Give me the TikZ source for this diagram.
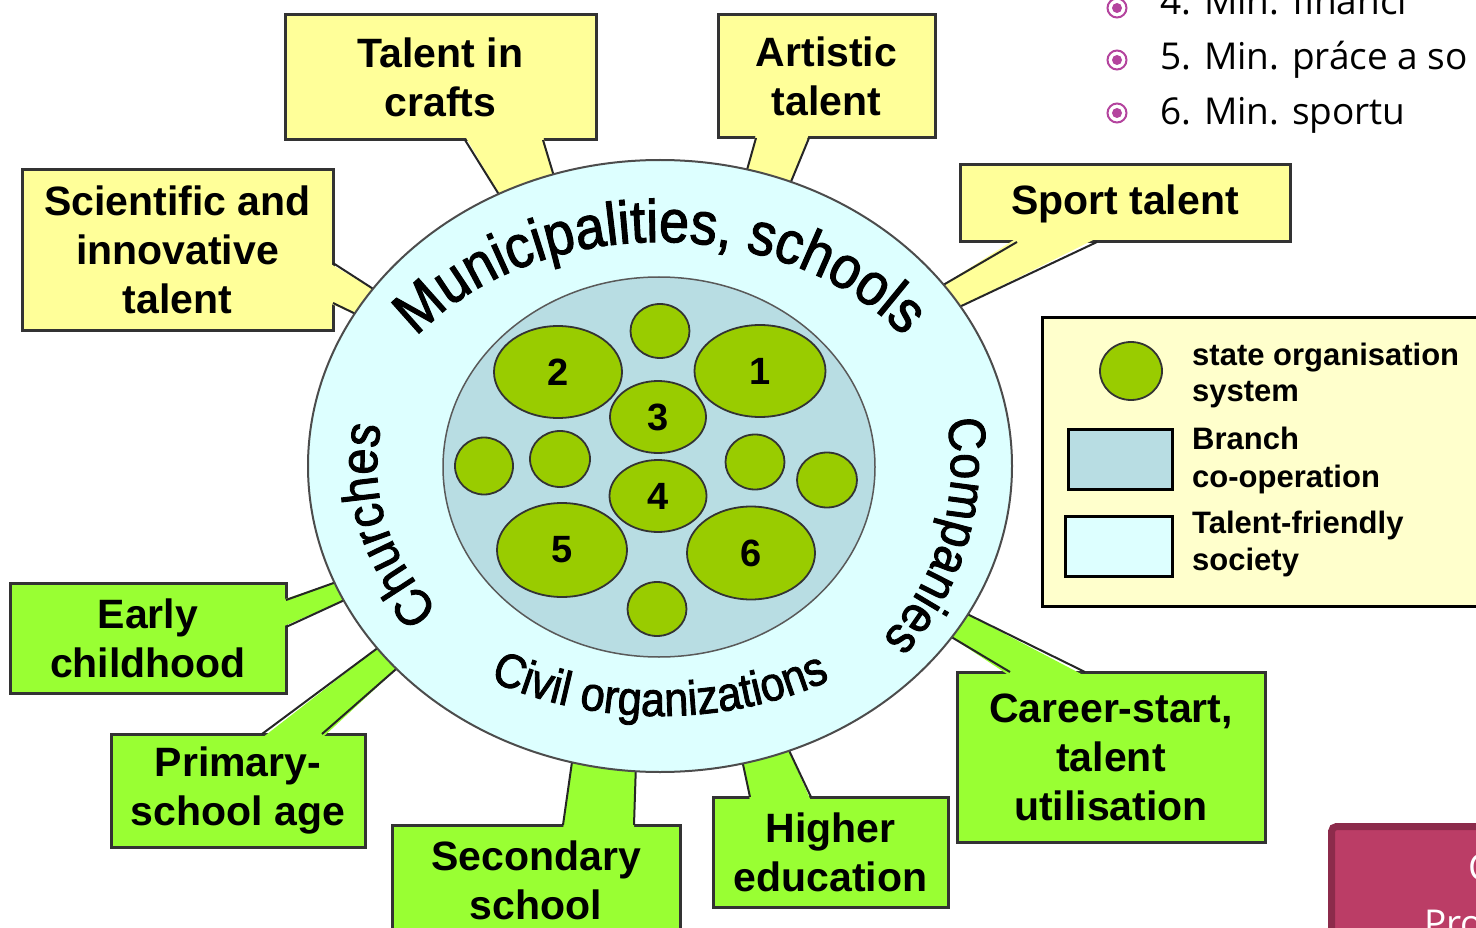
\documentclass[tikz,border=0pt]{standalone}
\usepackage{fontspec}
\setmainfont{Liberation Sans}
\newfontfamily\bulfont{Open Sans}
\newfontfamily\ringfont[FakeBold=1.8,FakeStretch=0.9]{Liberation Sans}
\usetikzlibrary{decorations.text,shapes.geometric}
\definecolor{cyel}{HTML}{FFFF99}
\definecolor{cgrn}{HTML}{99FF33}
\definecolor{cring}{HTML}{DDFFFF}
\definecolor{cinner}{HTML}{B8DDE3}
\definecolor{cball}{HTML}{99CC00}
\definecolor{cleg}{HTML}{FFFFCC}
\definecolor{cmag}{HTML}{B4449E}
\definecolor{cmar}{HTML}{BB3D66}
\definecolor{cmarb}{HTML}{8C2B4B}
\newcommand\calfont{\fontsize{41}{49}\selectfont\bfseries}
\newcommand\ringA{\ringfont\fontsize{60}{60}\selectfont}
\newcommand\ringB{\ringfont\fontsize{52}{52}\selectfont}
\newcommand\ringC{\ringfont\fontsize{48}{48}\selectfont}
\begin{document}
\begin{tikzpicture}[x=1pt,y=-1pt,
  ybox/.style={draw=black!80, line width=3, fill=cyel, align=center, inner sep=0, font=\calfont},
  gbox/.style={ybox, fill=cgrn},
  tailside/.style={draw=black!85, line width=2},
  ball/.style={ellipse, draw=black!80, line width=1.8, fill=cball, inner sep=0, font=\fontsize{38}{38}\selectfont\bfseries},
  legtext/.style={anchor=base west, inner sep=0, font=\fontsize{31}{31}\selectfont\bfseries},
  bultext/.style={anchor=base west, inner sep=0, font=\bulfont\fontsize{37}{37}\selectfont},
  legrect/.style={draw=black, line width=3, inner sep=0}]
\useasboundingbox (0,0) rectangle (1476,928);
\clip (0,0) rectangle (1476,928);

% ---------- callout boxes ----------
\node[ybox, minimum width=311, minimum height=125] (crafts) at (440.5,77.5) {Talent in\\crafts};
\node[ybox, minimum width=217, minimum height=123] (artistic) at (826.5,76.5) {Artistic\\talent};
\node[ybox, minimum width=330, minimum height=77] (sport) at (1125,203.5) {Sport talent};
\node[ybox, minimum width=311, minimum height=160] (scient) at (177.5,250) {Scientific and\\innovative\\talent};
\node[gbox, minimum width=276, minimum height=110] (early) at (148,638) {Early\\childhood};
\node[gbox, minimum width=254, minimum height=113] (primary) at (238,790.5) {Primary-\\school age};
\node[gbox, minimum width=288, minimum height=110] (second) at (536,880) {Secondary\\school};
\node[gbox, minimum width=235, minimum height=110] (higher) at (830.5,852) {Higher\\education};
\node[gbox, minimum width=308, minimum height=170] (career) at (1111,757) {Career-start,\\talent\\utilisation};

% ---------- tails ----------
\fill[cyel] (465,136) -- (503,201) -- (556,183) -- (543,136) -- cycle;
\draw[tailside] (465,140) -- (503,201) (543,140) -- (556,183);
\fill[cyel] (756,134) -- (745,177) -- (788,189) -- (809,134) -- cycle;
\draw[tailside] (756,138) -- (745,177) (809,138) -- (788,189);
\fill[cyel] (1017,238) -- (938,288) -- (955,309) -- (1097,238) -- cycle;
\draw[tailside] (1017,242) -- (938,288) (1097,242) -- (955,309);
\fill[cyel] (329,263) -- (378,292) -- (362,317) -- (329,303) -- cycle;
\draw[tailside] (333,263) -- (378,292) (333,303) -- (362,317);
\fill[cgrn] (282,600) -- (342,580) -- (349,598) -- (282,627) -- cycle;
\draw[tailside] (286,600) -- (342,580) (286,627) -- (349,598);
\fill[cgrn] (262,738) -- (383,644) -- (403,663) -- (322,738) -- cycle;
\draw[tailside] (262,734) -- (383,644) (322,734) -- (403,663);
\fill[cgrn] (563,829) -- (573,755) -- (636,763) -- (634,829) -- cycle;
\draw[tailside] (563,825) -- (573,755) (634,825) -- (636,763);
\fill[cgrn] (750,801) -- (741,755) -- (786,744) -- (811,801) -- cycle;
\draw[tailside] (750,797) -- (741,755) (811,797) -- (786,744);
\fill[cgrn] (1010,676) -- (948,635) -- (961,611) -- (1085,676) -- cycle;
\draw[tailside] (1010,672) -- (948,635) (1085,672) -- (961,611);

% ---------- society ring ----------
\draw[draw=black!70, line width=2, fill=cring] (660,466) ellipse [x radius=352, y radius=306];
\draw[draw=black!65, line width=1.5, fill=cinner] (659,467) ellipse [x radius=216, y radius=190];

% ring texts
\path[decorate, decoration={text along path, text={|\ringA|Municipalities, schools}, text align=center}]
  (660,466) ++(212:298 and 224) arc[start angle=212, end angle=328, x radius=298, y radius=224];
\path[decorate, decoration={text along path, text={|\ringB|Churches}, text align=center}]
  (660,466) ++(136:283 and 229) arc[start angle=136, end angle=196, x radius=283, y radius=229];
\path[decorate, decoration={text along path, text={|\ringB|Companies}, text align=center}]
  (660,466) ++(-15:291 and 268) arc[start angle=-15, end angle=45, x radius=291, y radius=268];
\path[decorate, decoration={text along path, text={|\ringC|Civil organizations}, text align=center}]
  (660,466) ++(140:330 and 250) arc[start angle=140, end angle=40, x radius=330, y radius=250];

% ---------- state organisations ----------
\node[ball, minimum width=128, minimum height=92] (o2) at (558,372) {2};
\node[ball, minimum width=131, minimum height=92] (o1) at (760,371) {1};
\node[ball, minimum width=59, minimum height=54] (otop) at (660,331) {};
\node[ball, minimum width=96, minimum height=72] (o3) at (658,417) {3};
\node[ball, minimum width=58, minimum height=57] (ol1) at (484,466) {};
\node[ball, minimum width=60, minimum height=56] (ol2) at (560,459) {};
\node[ball, minimum width=97, minimum height=72] (o4) at (658,496) {4};
\node[ball, minimum width=59, minimum height=55] (or1) at (755,462) {};
\node[ball, minimum width=60, minimum height=55] (or2) at (827,480) {};
\node[ball, minimum width=130, minimum height=94] (o5) at (562,550) {5};
\node[ball, minimum width=128, minimum height=93] (o6) at (751,553) {6};
\node[ball, minimum width=59, minimum height=54] (obot) at (657,609) {};

% ---------- legend ----------
\draw[line width=3, fill=cleg] (1042.5,317.5) rectangle (1490,606.5);
\node[ball, minimum width=62, minimum height=58] (lg1) at (1131,371) {};
\node[legrect, fill=cinner, minimum width=104, minimum height=60] (lg2) at (1120,459) {};
\node[legrect, fill=cring, minimum width=107, minimum height=60] (lg3) at (1118.5,546) {};
\node[legtext] (lt1) at (1192,365) {state organisation};
\node[legtext] (lt2) at (1192,401) {system};
\node[legtext] (lt3) at (1192,449) {Branch};
\node[legtext] (lt4) at (1192,487) {co-operation};
\node[legtext] (lt5) at (1192,533) {Talent-friendly};
\node[legtext] (lt6) at (1192,570) {society};

% ---------- bullet list (top right) ----------
\foreach \yy in {8,60,113}{
  \draw[cmag, line width=2] (1117,\yy) circle [radius=9.5];
  \fill[cmag] (1117,\yy) circle [radius=5];
}
\node[bultext] (b4) at (1160,15) {4. Min. financí};
\node[bultext] (b5) at (1160,70) {5. Min. práce a so};
\node[bultext] (b6) at (1160,125) {6. Min. sportu};

% ---------- bottom-right box ----------
\draw[draw=cmarb, fill=cmar, line width=7, rounded corners=5] (1331.5,826.5) rectangle (1500,960);
\node[bultext, text=white] (mc) at (1468,880) {C};
\node[bultext, text=white] (mp) at (1424,936) {Pro};
\end{tikzpicture}
\end{document}
